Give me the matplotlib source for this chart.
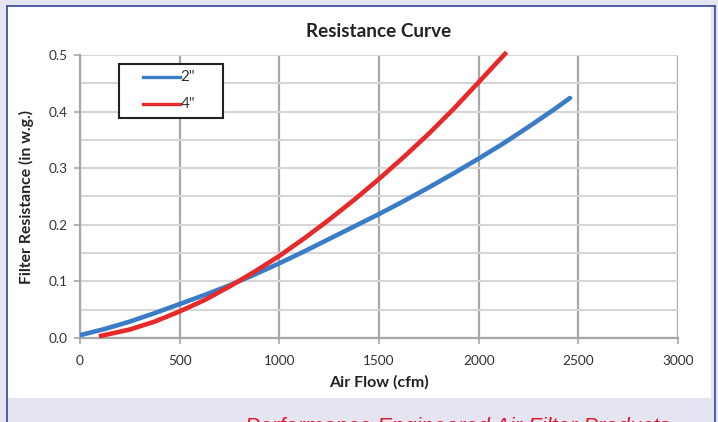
import matplotlib
matplotlib.use("Agg")
import matplotlib.pyplot as plt
from matplotlib.patches import Rectangle
from matplotlib.lines import Line2D
from matplotlib.ticker import MultipleLocator

# Data
flow_2in = [0, 125, 250, 375, 500, 625, 750, 875, 1000, 1125, 1250, 1375, 1500,
            1625, 1750, 1875, 2000, 2125, 2250, 2375, 2458]
res_2in = [0.005, 0.016, 0.029, 0.044, 0.060, 0.076, 0.093, 0.112, 0.132, 0.153, 0.175,
           0.197, 0.219, 0.242, 0.266, 0.291, 0.317, 0.344, 0.373, 0.403, 0.424]
flow_4in = [95, 250, 375, 500, 625, 750, 875, 1000, 1125, 1250, 1375, 1500,
            1625, 1750, 1875, 2000, 2140]
res_4in = [0.003, 0.015, 0.029, 0.047, 0.067, 0.091, 0.117, 0.145, 0.176, 0.209, 0.244,
           0.281, 0.320, 0.361, 0.405, 0.452, 0.505]
x_ticks = [0, 500, 1000, 1500, 2000, 2500, 3000]
y_ticks = [0.0, 0.1, 0.2, 0.3, 0.4, 0.5]
series_labels = ['2"', '4"']
title = "Resistance Curve"
footer = "Performance Engineered Air Filter Products"

plt.rcParams['font.family'] = ['Lato', 'DejaVu Sans']

W, H = 718, 422
fig = plt.figure(figsize=(W / 100, H / 100), dpi=100)
fig.patch.set_facecolor('#e5e5f1')


def fx(px):
    return px / W


def fy(py):
    return 1 - py / H


# white panel
fig.add_artist(Rectangle((fx(8), fy(398)), fx(711 - 8), (398 - 7) / H,
                         transform=fig.transFigure, facecolor='white',
                         edgecolor='none', zorder=0))
# blue frame
frame_col = '#3447a3'
for xs, ys in [([fx(7), fx(7)], [fy(6), 0]),
               ([fx(714.5), fx(714.5)], [fy(6), 0]),
               ([fx(7), fx(714.5)], [fy(6), fy(6)])]:
    fig.add_artist(Line2D(xs, ys, transform=fig.transFigure, color=frame_col, lw=1.2))

ax = fig.add_axes([fx(80), fy(338), fx(678 - 80), (338 - 55) / H])
ax.set_facecolor('white')

blue = '#3a7cc6'
red = '#e8292a'
ax.plot(flow_2in, res_2in, color=blue, lw=3.3, solid_capstyle='round',
        solid_joinstyle='round', zorder=3)
ax.plot(flow_4in, res_4in, color=red, lw=3.3, solid_capstyle='butt',
        solid_joinstyle='round', zorder=3, clip_on=False)

ax.set_xlim(0, 3000)
ax.set_ylim(0, 0.5)
ax.set_xticks(x_ticks)
ax.set_yticks(y_ticks)
ax.set_xticklabels([str(v) for v in x_ticks])
ax.set_yticklabels([f"{v:.1f}" for v in y_ticks])
ax.yaxis.set_minor_locator(MultipleLocator(0.05))
ax.tick_params(axis='y', which='minor', length=0)

ax.grid(axis='y', which='both', color='#d6d6d6', lw=1.5, zorder=0.5)
ax.grid(axis='x', which='major', color='#a8a8a8', lw=1.6, zorder=1)
ax.set_axisbelow(True)

for s in ['top', 'right']:
    ax.spines[s].set_visible(False)
for s in ['left', 'bottom']:
    ax.spines[s].set_color('#a8a8a8')
    ax.spines[s].set_linewidth(1.6)

ax.tick_params(axis='both', which='major', colors='#a8a8a8', length=4, width=1.2,
               labelcolor='#333333', labelsize=9.8)
ax.tick_params(axis='x', pad=8)
ax.tick_params(axis='y', pad=5)

ax.set_xlabel("Air Flow (cfm)", fontsize=11.5, fontweight='bold', color='#222222', labelpad=6)
ax.set_ylabel("Filter Resistance (in w.g.)", fontsize=11.3, fontweight='bold', color='#222222',
              labelpad=10)
ax.set_title(title, fontsize=13.6, fontweight='bold', color='#222222', pad=13)

# legend (box at pixels 119..223 x 64..118)
fig.add_artist(Rectangle((fx(119), fy(118)), fx(223 - 119), (118 - 64) / H,
                         transform=fig.transFigure, facecolor='white',
                         edgecolor='#222222', lw=1.5, zorder=5))
for lab, col, py in [(series_labels[0], blue, 77), (series_labels[1], red, 104)]:
    fig.add_artist(Line2D([fx(143), fx(180)], [fy(py), fy(py)], transform=fig.transFigure,
                          color=col, lw=2.4, zorder=6))
    fig.text(fx(180.5), fy(py), lab, fontsize=11, color='#333333', ha='left',
             va='center', zorder=6)

fig.text(fx(458), fy(416.5), footer, color='#e01530', fontsize=15.8, style='italic',
         family=['Liberation Sans', 'DejaVu Sans'], ha='center', va='top')

fig.savefig("out.png", dpi=100, facecolor=fig.get_facecolor())
